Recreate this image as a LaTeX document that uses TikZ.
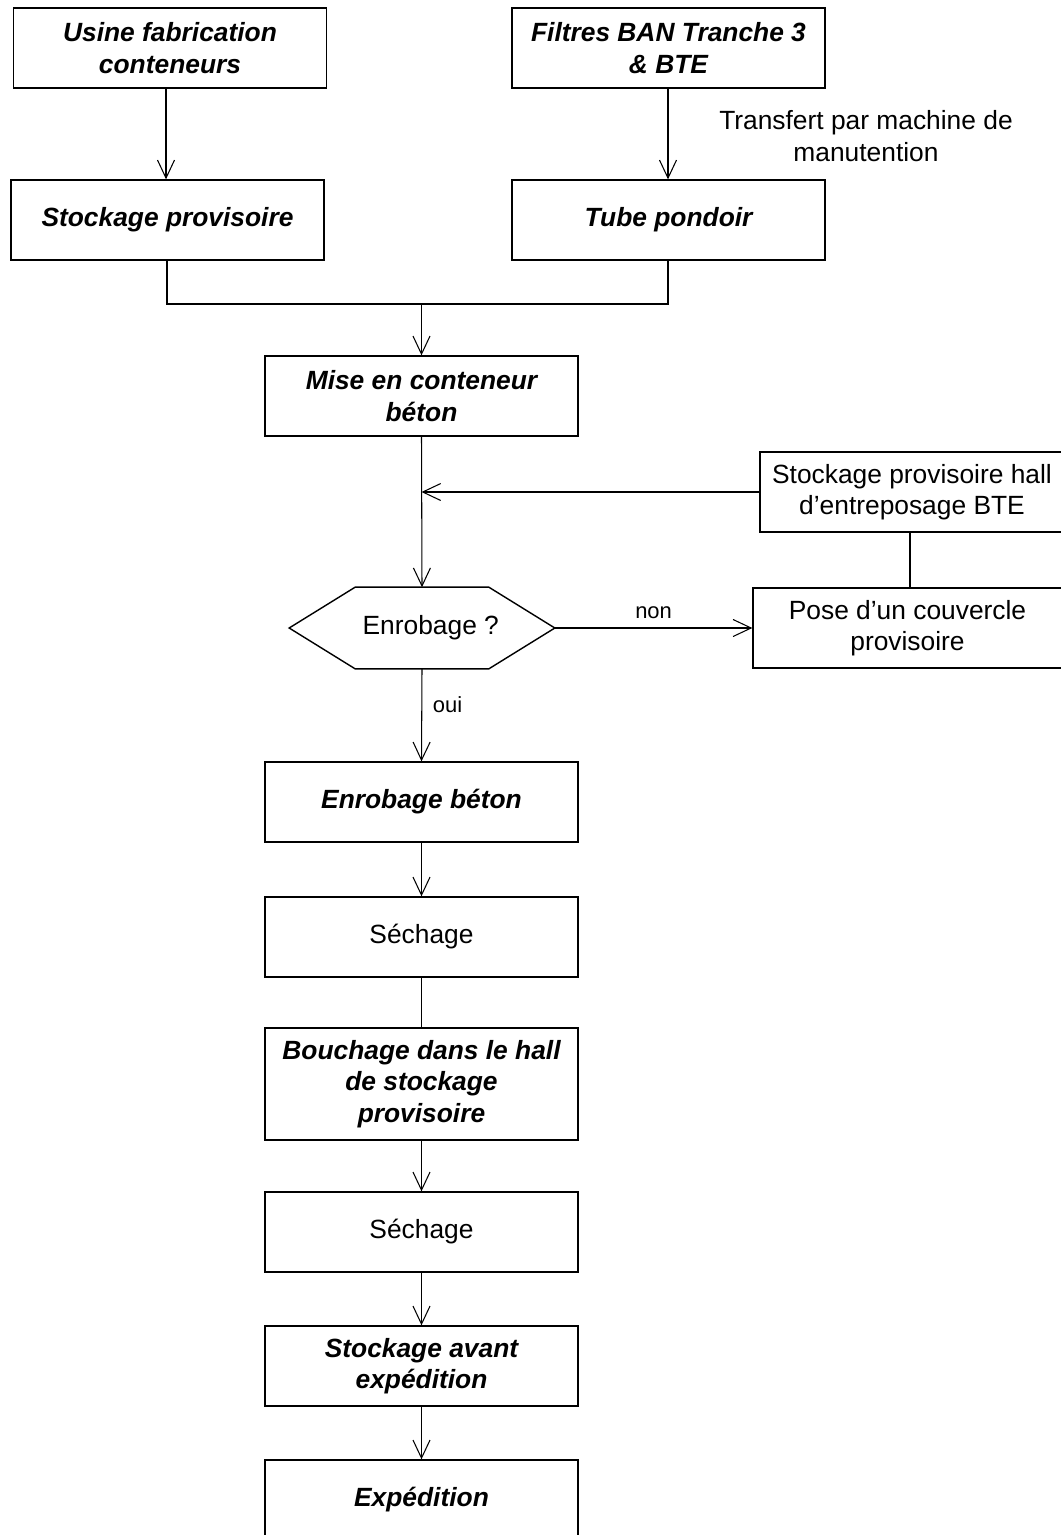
\documentclass[tikz,border=0pt]{standalone}
\usepackage{fontspec}
\setmainfont{Liberation Sans}
\usetikzlibrary{arrows.meta,calc}
\begin{document}
\begin{tikzpicture}[x=0.02cm,y=-0.02cm,
  every node/.style={font=\fontsize{15pt}{18pt}\selectfont},
  box/.style={draw, line width=0.8pt, minimum width=6.26cm, minimum height=1.6cm, inner sep=0pt, align=center},
  bi/.style={font=\fontsize{15pt}{18pt}\selectfont\bfseries\itshape},
  conn/.style={line width=0.6pt},
  arr/.style={conn, -{Straight Barb[length=3.6mm,width=3.4mm]}},
  lbl/.style={font=\fontsize{12.5pt}{15pt}\selectfont, inner sep=0pt}]
\clip (0,0) rectangle (1061,1535);
\fill[white] (0,0) rectangle (1061,1535);
% nodes
\node[box,bi] (b1) at (170,48) {Usine fabrication\\conteneurs};
\node[box,bi] (b2) at (668.5,48) {Filtres BAN Tranche 3\\\& BTE};
\node[box,bi] (s1) at (167.5,220) {Stockage provisoire};
\node[box,bi] (tp) at (668.5,220) {Tube pondoir};
\node[align=center, inner sep=0pt] (tr) at (866,136) {Transfert par machine de\\manutention};
\node[box,bi] (mise) at (421.5,396) {Mise en conteneur\\béton};
\node[box, minimum width=6.08cm] (hall) at (912,492) {Stockage provisoire hall\\d’entreposage BTE};
\node[box, minimum width=6.18cm] (pose) at (907.5,628) {Pose d’un couvercle\\provisoire};
\node[minimum width=5.3cm, minimum height=1.62cm, inner sep=0pt] (q) at (422,628) {\hspace{10pt}Enrobage ?};
\draw[line width=0.8pt] (q.west) -- ($(q.north west)+(66,0)$) -- ($(q.north east)+(-66,0)$) -- (q.east)
  -- ($(q.south east)+(-66,0)$) -- ($(q.south west)+(66,0)$) -- cycle;
\node[box,bi] (enr) at (421.5,802) {Enrobage béton};
\node[box] (sech1) at (421.5,937) {Séchage};
\node[box,bi, minimum height=2.24cm] (bouch) at (421.5,1084) {Bouchage dans le hall\\de stockage\\provisoire};
\node[box] (sech2) at (421.5,1232) {Séchage};
\node[box,bi] (stock) at (421.5,1366) {Stockage avant\\expédition};
\node[box,bi] (exp) at (421.5,1500) {Expédition};
% connectors
\draw[arr] (b1.south -| 166,0) -- (s1.north -| 166,0);
\draw[arr] (b2.south -| 668,0) -- (tp.north -| 668,0);
\coordinate (j) at (421.5,304);
\draw[conn] (s1.south -| 167,0) -- (167,304) -| (tp.south -| 668,0);
\draw[arr] (j) -- (mise.north);
\draw[arr] (mise.south) -- (q.north);
\draw[arr] (hall.west) -- (hall.west -| mise.south);
\draw[conn] (hall.south -| 910,0) -- (pose.north -| 910,0);
\draw[arr] (q.east) -- node[lbl, above=5pt] {non} (pose.west);
\draw[arr] (q.south) -- node[lbl, right=6pt, pos=0.39] {oui} (enr.north);
\draw[arr] (enr) -- (sech1);
\draw[conn] (sech1) -- (bouch);
\draw[arr] (bouch) -- (sech2);
\draw[arr] (sech2) -- (stock);
\draw[arr] (stock) -- (exp);
\end{tikzpicture}
\end{document}
